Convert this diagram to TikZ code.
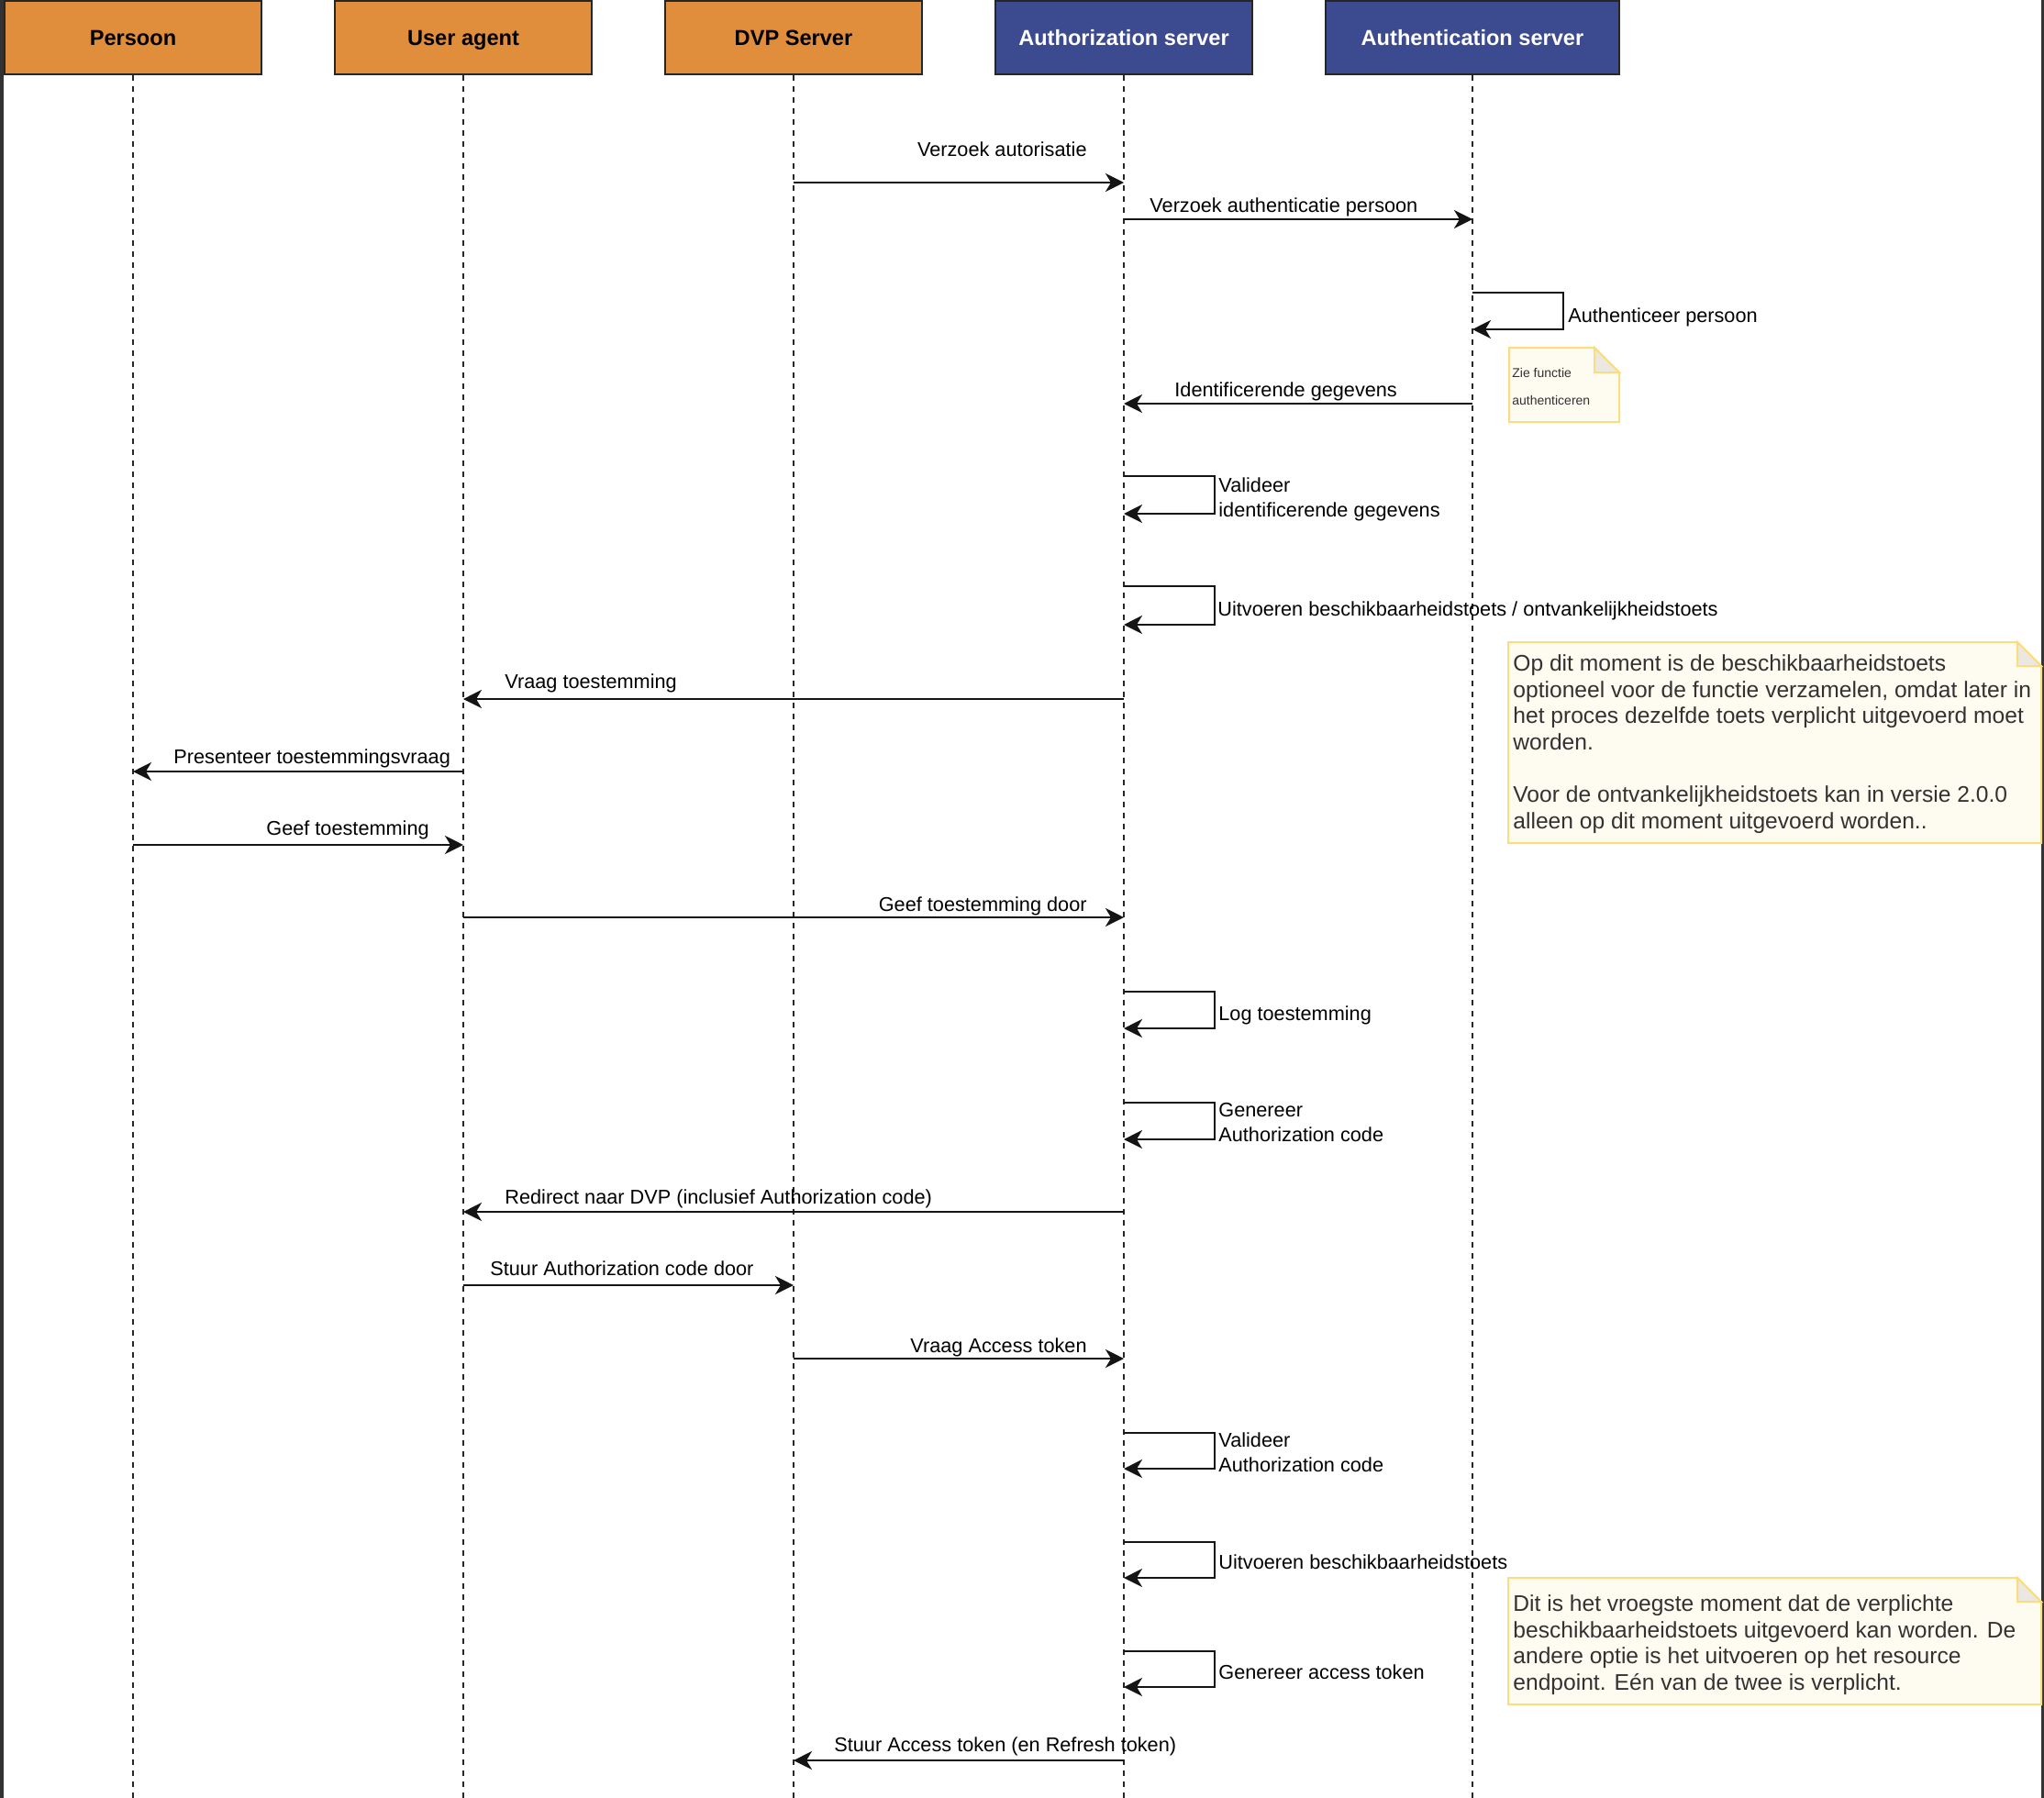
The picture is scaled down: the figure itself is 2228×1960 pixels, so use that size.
\documentclass[tikz,border=0pt]{standalone}
\usepackage{fontspec}
\setmainfont{Liberation Sans}
\usetikzlibrary{arrows.meta}
\definecolor{hdrorange}{RGB}{224,141,60}
\definecolor{hdrblue}{RGB}{60,74,143}
\definecolor{notefill}{RGB}{254,251,240}
\definecolor{notedraw}{RGB}{250,220,130}
\definecolor{notefold}{RGB}{234,232,224}
\definecolor{framegray}{RGB}{51,51,51}
\definecolor{notetext}{RGB}{50,50,50}
\definecolor{lineblack}{RGB}{20,20,20}
\begin{document}
\begin{tikzpicture}[x=0.5pt,y=-0.5pt,
  hdr/.style={draw=black!85, line width=1pt, minimum width=140pt, minimum height=40pt,
    anchor=north, inner sep=0pt, text height=10pt, text depth=1.6pt,
    font=\bfseries\fontsize{11.8pt}{14pt}\selectfont},
  lifeline/.style={draw=black!85, line width=0.9pt, dash pattern=on 3pt off 3pt},
  msg/.style={draw=lineblack, line width=1.3pt, -{Stealth[length=10pt,width=10pt,inset=3pt]}},
  lbl/.style={inner sep=0pt, font=\fontsize{10.85pt}{13.5pt}\selectfont, text=black},
  lbl1/.style={lbl, text height=9.3pt, text depth=2.3pt},
  lbl2/.style={lbl, align=left},
  notebox/.style={fill=notefill, draw=notedraw, line width=1pt},
  notefoldst/.style={fill=notefold, draw=notedraw, line width=1pt},
  notetxt/.style={inner sep=0pt, text=notetext, align=left, font=\fontsize{12.3pt}{14.4pt}\selectfont},
  smallnote/.style={inner sep=0pt, text=notetext, align=left, font=\fontsize{7pt}{15pt}\selectfont}
]
% background and frame
\useasboundingbox (0,0) rectangle (2228,1960);
\fill[white] (0,0) rectangle (2228,1960);
\fill[framegray] (0,0) rectangle (4,1960);
\fill[framegray] (2225,0) rectangle (2228,1960);

% headers
\node[hdr, fill=hdrorange] (persoon) at (145,0) {Persoon};
\node[hdr, fill=hdrorange] (ua) at (505,0) {User agent};
\node[hdr, fill=hdrorange] (dvp) at (865,0) {DVP Server};
\node[hdr, fill=hdrblue, text=white] (authz) at (1225,0) {Authorization server};
\node[hdr, fill=hdrblue, text=white, minimum width=160pt] (authn) at (1605,0) {Authentication server};

% lifelines
\coordinate (persoonE) at (145,1960);
\coordinate (uaE) at (505,1960);
\coordinate (dvpE) at (865,1960);
\coordinate (authzE) at (1225,1960);
\coordinate (authnE) at (1605,1960);
\draw[lifeline] (persoon.south) -- (persoonE);
\draw[lifeline] (ua.south) -- (uaE);
\draw[lifeline] (dvp.south) -- (dvpE);
\draw[lifeline] (authz.south) -- (authzE);
\draw[lifeline] (authn.south) -- (authnE);

% notes
\path[notebox] (1645,379) -- (1738,379) -- (1765,406) -- (1765,460) -- (1645,460) -- cycle;
\path[notefoldst] (1738,379) -- (1738,406) -- (1765,406) -- cycle;
\node[smallnote, anchor=north west] (noteA) at (1648,401) {Zie functie\\authenticeren};

\path[notebox] (1644,700) -- (2199,700) -- (2225,726) -- (2225,919) -- (1644,919) -- cycle;
\path[notefoldst] (2199,700) -- (2199,726) -- (2225,726) -- cycle;
\node[notetxt, anchor=north west] (noteB) at (1649,713) {Op dit moment is de beschikbaarheidstoets\\
optioneel voor de functie verzamelen, omdat later in\\
het proces dezelfde toets verplicht uitgevoerd moet\\
worden.\\[14.1pt]
Voor de ontvankelijkheidstoets kan in versie 2.0.0\\
alleen op dit moment uitgevoerd worden..};

\path[notebox] (1644,1720) -- (2199,1720) -- (2225,1746) -- (2225,1858) -- (1644,1858) -- cycle;
\path[notefoldst] (2199,1720) -- (2199,1746) -- (2225,1746) -- cycle;
\node[notetxt, anchor=north west] (noteC) at (1649,1738) {Dit is het vroegste moment dat de verplichte\\
beschikbaarheidstoets uitgevoerd kan worden. De\\
andere optie is het uitvoeren op het resource\\
endpoint. Eén van de twee is verplicht.};

% 1 Verzoek autorisatie
\coordinate (m1a) at (dvp |- 0,199);
\coordinate (m1b) at (authz |- 0,199);
\draw[msg] (m1a) -- (m1b);
\node[lbl1, anchor=east] (l1) at (1185,163) {Verzoek autorisatie};

% 2 Verzoek authenticatie persoon
\coordinate (m2a) at (authz |- 0,239);
\coordinate (m2b) at (authn |- 0,239);
\draw[msg] (m2a) -- (m2b);
\node[lbl1, anchor=west] (l2) at (1253,224) {Verzoek authenticatie persoon};

% 3 Authenticeer persoon (self)
\coordinate (m3a) at (authn |- 0,319);
\coordinate (m3b) at (authn |- 0,359);
\draw[msg] (m3a) -| (1704,359) -- (m3b);
\node[lbl1, anchor=west] (l3) at (1709,344) {Authenticeer persoon};

% 4 Identificerende gegevens
\coordinate (m4a) at (authn |- 0,440);
\coordinate (m4b) at (authz |- 0,440);
\draw[msg] (m4a) -- (m4b);
\node[lbl1, anchor=west] (l4) at (1280,425) {Identificerende gegevens};

% 5 Valideer identificerende gegevens (self)
\coordinate (m5a) at (authz |- 0,519);
\coordinate (m5b) at (authz |- 0,560);
\draw[msg] (m5a) -| (1324,560) -- (m5b);
\node[lbl2, anchor=west] (l5) at (1328,544) {Valideer\\identificerende gegevens};

% 6 Uitvoeren beschikbaarheidstoets / ontvankelijkheidstoets (self)
\coordinate (m6a) at (authz |- 0,639);
\coordinate (m6b) at (authz |- 0,681);
\draw[msg] (m6a) -| (1324,681) -- (m6b);
\node[lbl1, anchor=west] (l6) at (1327,664) {Uitvoeren beschikbaarheidstoets / ontvankelijkheidstoets};

% 7 Vraag toestemming
\coordinate (m7a) at (authz |- 0,762);
\coordinate (m7b) at (ua |- 0,762);
\draw[msg] (m7a) -- (m7b);
\node[lbl1, anchor=west] (l7) at (550,743) {Vraag toestemming};

% 8 Presenteer toestemmingsvraag
\coordinate (m8a) at (ua |- 0,841);
\coordinate (m8b) at (persoon |- 0,841);
\draw[msg] (m8a) -- (m8b);
\node[lbl1, anchor=west] (l8) at (189,825) {Presenteer toestemmingsvraag};

% 9 Geef toestemming
\coordinate (m9a) at (persoon |- 0,921);
\coordinate (m9b) at (ua |- 0,921);
\draw[msg] (m9a) -- (m9b);
\node[lbl1, anchor=west] (l9) at (290,903) {Geef toestemming};

% 10 Geef toestemming door
\coordinate (m10a) at (ua |- 0,1000);
\coordinate (m10b) at (authz |- 0,1000);
\draw[msg] (m10a) -- (m10b);
\node[lbl1, anchor=east] (l10) at (1185,986) {Geef toestemming door};

% 11 Log toestemming (self)
\coordinate (m11a) at (authz |- 0,1081);
\coordinate (m11b) at (authz |- 0,1121);
\draw[msg] (m11a) -| (1324,1121) -- (m11b);
\node[lbl1, anchor=west] (l11) at (1328,1105) {Log toestemming};

% 12 Genereer Authorization code (self)
\coordinate (m12a) at (authz |- 0,1202);
\coordinate (m12b) at (authz |- 0,1242);
\draw[msg] (m12a) -| (1324,1242) -- (m12b);
\node[lbl2, anchor=west] (l12) at (1328,1224) {Genereer\\Authorization code};

% 13 Redirect naar DVP
\coordinate (m13a) at (authz |- 0,1321);
\coordinate (m13b) at (ua |- 0,1321);
\draw[msg] (m13a) -- (m13b);
\node[lbl1, anchor=west] (l13) at (550,1305) {Redirect naar DVP (inclusief Authorization code)};

% 14 Stuur Authorization code door
\coordinate (m14a) at (ua |- 0,1401);
\coordinate (m14b) at (dvp |- 0,1401);
\draw[msg] (m14a) -- (m14b);
\node[lbl1, anchor=west] (l14) at (534,1383) {Stuur Authorization code door};

% 15 Vraag Access token
\coordinate (m15a) at (dvp |- 0,1481);
\coordinate (m15b) at (authz |- 0,1481);
\draw[msg] (m15a) -- (m15b);
\node[lbl1, anchor=east] (l15) at (1185,1467) {Vraag Access token};

% 16 Valideer Authorization code (self)
\coordinate (m16a) at (authz |- 0,1562);
\coordinate (m16b) at (authz |- 0,1601);
\draw[msg] (m16a) -| (1324,1601) -- (m16b);
\node[lbl2, anchor=west] (l16) at (1328,1583) {Valideer\\Authorization code};

% 17 Uitvoeren beschikbaarheidstoets (self)
\coordinate (m17a) at (authz |- 0,1681);
\coordinate (m17b) at (authz |- 0,1720);
\draw[msg] (m17a) -| (1324,1720) -- (m17b);
\node[lbl1, anchor=west] (l17) at (1328,1703) {Uitvoeren beschikbaarheidstoets};

% 18 Genereer access token (self)
\coordinate (m18a) at (authz |- 0,1800);
\coordinate (m18b) at (authz |- 0,1839);
\draw[msg] (m18a) -| (1324,1839) -- (m18b);
\node[lbl1, anchor=west] (l18) at (1328,1823) {Genereer access token};

% 19 Stuur Access token
\coordinate (m19a) at (authz |- 0,1919);
\coordinate (m19b) at (dvp |- 0,1919);
\draw[msg] (m19a) -- (m19b);
\node[lbl1, anchor=west] (l19) at (909,1902) {Stuur Access token (en Refresh token)};
\end{tikzpicture}
\end{document}
